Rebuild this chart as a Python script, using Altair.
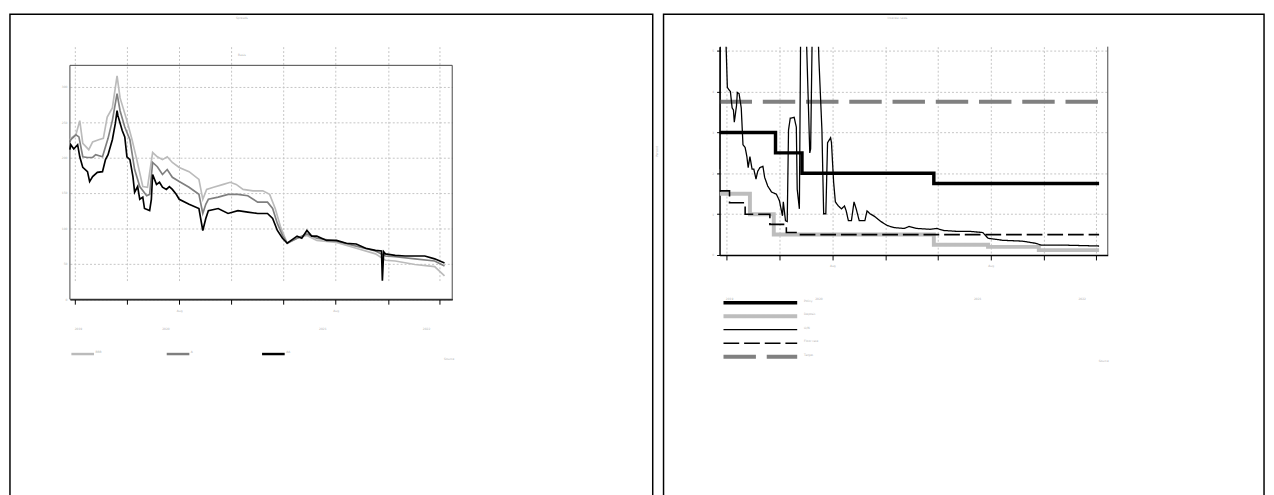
import altair as alt
import pandas as pd

FONT = "DejaVu Sans"
TINY = 3
TXT = "#b0b0b0"

# ---------------- Left panel data (basis points) ----------------
left_names = ["BBB", "A", "AA"]
left_colors = ["#bbbbbb", "#7f7f7f", "#000000"]

bbb_dates = ["2019-11-20", "2019-11-22", "2019-12-04", "2019-12-13", "2019-12-20", "2020-01-03", "2020-01-12",
             "2020-01-26", "2020-02-06", "2020-02-15", "2020-02-27", "2020-03-09", "2020-03-16", "2020-04-01",
             "2020-04-13", "2020-04-24", "2020-05-08", "2020-05-19", "2020-05-31", "2020-06-11", "2020-06-23",
             "2020-07-04", "2020-07-16", "2020-08-01", "2020-08-24", "2020-09-16", "2020-09-25", "2020-10-04",
             "2020-10-20", "2020-11-12", "2020-11-28", "2020-12-12", "2020-12-28", "2021-01-20", "2021-02-12",
             "2021-02-28", "2021-03-13", "2021-03-25", "2021-04-10", "2021-05-03", "2021-05-26", "2021-06-18",
             "2021-08-03", "2021-09-18", "2021-11-02", "2021-11-25", "2021-12-18", "2022-02-02", "2022-03-20",
             "2022-04-12"]
bbb_values = [224, 227, 232, 252, 220, 211, 222, 225, 227, 257, 270, 315, 284, 252, 225, 197, 159, 158, 207, 201,
              197, 201, 193, 186, 180, 169, 141, 155, 158, 162, 165, 162, 155, 153, 153, 148, 128, 103, 79, 86,
              90, 83, 80, 72, 64, 55, 54, 49, 46, 33]

a_dates = ["2019-11-20", "2019-11-22", "2019-12-04", "2019-12-11", "2019-12-20", "2019-12-31", "2020-01-12",
           "2020-01-19", "2020-02-04", "2020-02-11", "2020-02-17", "2020-02-27", "2020-03-09", "2020-03-16",
           "2020-03-27", "2020-04-08", "2020-04-19", "2020-05-01", "2020-05-17", "2020-05-24", "2020-05-31",
           "2020-06-11", "2020-06-23", "2020-07-04", "2020-07-16", "2020-08-01", "2020-08-24", "2020-09-16",
           "2020-09-25", "2020-10-02", "2020-10-08", "2020-10-31", "2020-11-23", "2020-12-16", "2021-01-08",
           "2021-01-31", "2021-02-23", "2021-03-07", "2021-03-18", "2021-03-30", "2021-04-10", "2021-05-03",
           "2021-05-26", "2021-06-18", "2021-08-03", "2021-09-18", "2021-11-02", "2021-11-25", "2021-12-18",
           "2022-02-02", "2022-03-20", "2022-04-12"]
a_values = [222, 225, 232, 229, 201, 200, 200, 204, 201, 215, 227, 252, 290, 266, 243, 225, 183, 159, 146, 148,
            193, 187, 176, 183, 172, 166, 158, 148, 121, 134, 141, 144, 148, 148, 146, 137, 137, 128, 107, 90,
            79, 86, 92, 86, 82, 75, 68, 61, 60, 57, 54, 47]

aa_dates = ["2019-11-20", "2019-11-22", "2019-11-29", "2019-12-08", "2019-12-13", "2019-12-20", "2019-12-31",
            "2020-01-05", "2020-01-12", "2020-01-23", "2020-02-04", "2020-02-11", "2020-02-17", "2020-02-27",
            "2020-03-05", "2020-03-09", "2020-03-11", "2020-03-21", "2020-03-27", "2020-04-01", "2020-04-08",
            "2020-04-15", "2020-04-19", "2020-04-26", "2020-05-01", "2020-05-08", "2020-05-12", "2020-05-24",
            "2020-05-28", "2020-05-31", "2020-06-09", "2020-06-16", "2020-06-23", "2020-07-02", "2020-07-09",
            "2020-07-16", "2020-07-25", "2020-08-01", "2020-08-24", "2020-09-16", "2020-09-25", "2020-10-02",
            "2020-10-08", "2020-10-31", "2020-11-23", "2020-12-16", "2021-01-08", "2021-01-31", "2021-02-23",
            "2021-03-07", "2021-03-18", "2021-03-30", "2021-04-10", "2021-05-03", "2021-05-14", "2021-05-26",
            "2021-06-06", "2021-06-18", "2021-07-11", "2021-08-03", "2021-08-26", "2021-09-18", "2021-10-10",
            "2021-11-02", "2021-11-16", "2021-11-18", "2021-11-21", "2021-11-25", "2021-12-18", "2022-01-10",
            "2022-02-02", "2022-02-25", "2022-03-20", "2022-04-12"]
aa_values = [211, 218, 212, 218, 201, 186, 180, 166, 173, 179, 180, 197, 204, 225, 248, 266, 259, 238, 229, 201,
             197, 173, 151, 159, 141, 144, 128, 125, 141, 176, 162, 165, 158, 155, 159, 155, 148, 141, 134, 128,
             97, 114, 125, 128, 121, 125, 123, 121, 121, 114, 97, 86, 79, 89, 86, 97, 89, 89, 83, 83,
             79, 78, 72, 69, 68, 26, 67, 64, 62, 61, 61, 61, 57, 51]

left_year_labels = ["2019", "2020", "2021", "2022"]
left_year_pos = ["2019-12-10", "2020-07-01", "2021-07-02", "2022-03-01"]
left_y_ticks = [0, 50, 100, 150, 200, 250, 300]

# ---------------- Right panel data (percent) ----------------
right_names = ["Policy", "Deposit", "O/N", "Floor rate", "Target"]
right_colors = ["#000000", "#bdbdbd", "#000000", "#000000", "#808080"]
right_widths = [3.5, 4, 1.3, 1.6, 4]
right_dashes = [[1, 0], [1, 0], [1, 0], [16, 5], [33, 11]]

policy_dates = ["2019-11-15", "2020-03-23", "2020-05-23", "2021-03-23", "2022-04-08"]
policy_values = [3.0, 2.5, 2.0, 1.75, 1.75]
deposit_dates = ["2019-11-15", "2020-01-24", "2020-03-19", "2021-03-23", "2021-07-26", "2021-11-20", "2022-04-08"]
deposit_values = [1.5, 1.0, 0.5, 0.25, 0.2, 0.12, 0.12]
floor_dates = ["2019-11-15", "2019-12-08", "2020-01-13", "2020-03-10", "2020-04-17", "2020-05-12", "2022-04-08"]
floor_values = [1.57, 1.28, 1.0, 0.75, 0.55, 0.5, 0.5]
target_dates = ["2019-11-15", "2022-04-08"]
target_values = [3.75, 3.75]

overnight_dates = ["2019-11-15", "2019-11-17", "2019-11-26", "2019-12-03", "2019-12-10", "2019-12-14", "2019-12-17",
                   "2019-12-19", "2019-12-24", "2019-12-26", "2019-12-30", "2020-01-04", "2020-01-08", "2020-01-13",
                   "2020-01-17", "2020-01-20", "2020-01-24", "2020-01-29", "2020-02-02", "2020-02-07", "2020-02-11",
                   "2020-02-16", "2020-02-23", "2020-02-27", "2020-03-05", "2020-03-14", "2020-03-25", "2020-04-01",
                   "2020-04-08", "2020-04-10", "2020-04-15", "2020-04-19", "2020-04-22", "2020-04-26", "2020-05-05",
                   "2020-05-10", "2020-05-12", "2020-05-17", "2020-05-21", "2020-05-28", "2020-05-30", "2020-06-10",
                   "2020-06-12", "2020-06-17", "2020-06-26", "2020-07-01", "2020-07-08", "2020-07-12", "2020-07-17",
                   "2020-07-21", "2020-07-28", "2020-07-30", "2020-08-04", "2020-08-08", "2020-08-15", "2020-08-22",
                   "2020-08-29", "2020-09-02", "2020-09-07", "2020-09-14", "2020-09-20", "2020-09-25", "2020-10-02",
                   "2020-10-15", "2020-10-20", "2020-10-27", "2020-11-07", "2020-11-21", "2020-12-06", "2020-12-22",
                   "2021-01-14", "2021-01-25", "2021-02-12", "2021-03-14", "2021-03-30", "2021-04-15", "2021-05-14",
                   "2021-06-13", "2021-07-14", "2021-07-26", "2021-08-29", "2021-10-13", "2021-11-11", "2021-11-27",
                   "2022-01-25", "2022-04-08"]
overnight_values = [2.1, 6.0, 6.5, 4.1, 4.0, 3.6, 3.55, 3.25, 3.65, 3.98, 3.95, 3.6, 2.7, 2.63,
                    2.41, 2.14, 2.41, 2.1, 2.1, 1.86, 2.05, 2.14, 2.17, 1.9, 1.69, 1.54, 1.49, 1.33,
                    0.96, 1.3, 0.84, 0.82, 3.06, 3.35, 3.37, 3.13, 1.61, 1.13, 7.0, 7.0, 6.5, 2.5,
                    2.6, 6.5, 6.5, 4.8, 3.06, 1.01, 1.01, 2.75, 2.87, 2.75, 1.78, 1.3, 1.2, 1.13,
                    1.2, 1.08, 0.84, 0.84, 1.3, 1.13, 0.84, 0.84, 1.08, 1.01, 0.94, 0.82, 0.72, 0.67,
                    0.65, 0.7, 0.65, 0.63, 0.65, 0.6, 0.58, 0.58, 0.55, 0.41, 0.36, 0.34, 0.29, 0.24,
                    0.24, 0.22]

right_year_labels = ["2019", "2020", "2021", "2022"]
right_year_pos = ["2019-12-08", "2020-07-01", "2021-07-02", "2022-02-28"]
right_y_ticks = [0, 1, 2, 3, 4, 5]


# ---------------- helpers ----------------
def dt(s):
    y, m, d = map(int, s.split("-"))
    return alt.DateTime(year=y, month=m, date=d)


tick_months = [(2019, 12)] + [(y, m) for y in (2020, 2021) for m in range(1, 13)] + [(2022, m) for m in range(1, 5)]
month_ticks = [alt.DateTime(year=y, month=m, date=1) for y, m in tick_months]


def series_frame(field, names, dates_list, values_list):
    parts = []
    for n, d, v in zip(names, dates_list, values_list):
        parts.append(pd.DataFrame({field: n, "date": d, "value": v}))
    return pd.concat(parts, ignore_index=True)


def x_axis():
    return alt.Axis(
        values=month_ticks,
        labelExpr="indexof([1,4,7,10], month(datum.value)) >= 0 ? timeFormat(datum.value, '%b') : ''",
        labelFontSize=TINY, labelColor=TXT, labelPadding=5, labelFlush=False, labelOverlap=False,
        tickSize={"condition": {"test": "month(datum.value) == 0", "value": 10}, "value": 5},
        tickColor="#000", tickWidth=1, domainColor="#000", domainWidth=1.5,
        grid=True, gridDash=[2, 2], gridColor="#c4c4c4", gridWidth=1, title=None)


one = pd.DataFrame({"k": [0]})


def frame(x1, x2, y1, y2, color="#000", width=1.5):
    return alt.Chart(one).mark_rect(filled=False, stroke=color, strokeWidth=width).encode(
        x=alt.value(x1), x2=alt.value(x2), y=alt.value(y1), y2=alt.value(y2))


def note(text, x, y, align="center", angle=0):
    return alt.Chart(pd.DataFrame({"t": [text]})).mark_text(
        fontSize=TINY, color=TXT, align=align, angle=angle).encode(
        text="t:N", x=alt.value(x), y=alt.value(y))


# common origin: top of the right plot. Left plot starts TOPGAP px lower.
TOPGAP = 19

# ---------------- left panel ----------------
LW, LH = 389, 238
LTOT = LH + TOPGAP
df_left = series_frame("lseries", left_names, [bbb_dates, a_dates, aa_dates], [bbb_values, a_values, aa_values])
df_left_years = pd.DataFrame({"date": left_year_pos, "label": left_year_labels})

left_lines = alt.Chart(df_left).mark_line(strokeWidth=1.7).encode(
    x=alt.X("date:T", title=None, scale=alt.Scale(domain=[dt("2019-11-20"), dt("2022-04-30")]), axis=x_axis()),
    y=alt.Y("value:Q", title=None, scale=alt.Scale(domain=[0, 330], range=[LTOT, TOPGAP]),
            axis=alt.Axis(values=left_y_ticks, labelFontSize=TINY, labelColor=TXT, labelPadding=3,
                          ticks=False, domain=False, grid=True, gridDash=[2, 2], gridColor="#c4c4c4")),
    color=alt.Color("lseries:N", scale=alt.Scale(domain=left_names, range=left_colors),
                    legend=alt.Legend(orient="none", legendX=-1, legendY=LTOT + 53, direction="horizontal",
                                      title=None, symbolType="M0,0H20", symbolSize=5.3, symbolStrokeWidth=2.5,
                                      labelFontSize=TINY, labelColor=TXT, labelOffset=22, labelLimit=30,
                                      labelBaseline="bottom", columnPadding=60, gridAlign="all")),
)
left_years = alt.Chart(df_left_years).mark_text(fontSize=TINY, color=TXT).encode(
    x=alt.X("date:T"), y=alt.value(LTOT + 30), text="label:N")

left = alt.layer(
    frame(-61, 593, -33, 459),
    frame(0, LW, TOPGAP, LTOT, color="#444", width=1),
    left_lines,
    left_years,
    note("Spreads", 175, -29),
    note("Basis", 175, 8),
    note("Source", 391, LTOT + 61, align="right"),
).properties(width=LW, height=LTOT, view=alt.ViewBackground(stroke="transparent"))

# ---------------- right panel ----------------
RW, RH = 395, 212
df_steps = series_frame("rseries", ["Target", "Deposit", "Policy", "Floor rate"],
                        [target_dates, deposit_dates, policy_dates, floor_dates],
                        [target_values, deposit_values, policy_values, floor_values])
df_over = series_frame("rseries", ["O/N"], [overnight_dates], [overnight_values])
df_right_years = pd.DataFrame({"date": right_year_pos, "label": right_year_labels})

r_legend = alt.Legend(orient="none", legendX=0, legendY=254.5, direction="vertical", title=None,
                      symbolType="M0,0H37.5", symbolSize=16, labelFontSize=TINY, labelColor=TXT,
                      labelOffset=78, labelLimit=40, labelBaseline="bottom",
                      clipHeight=12, rowPadding=1.75)

r_x = alt.X("date:T", title=None, scale=alt.Scale(domain=[dt("2019-11-15"), dt("2022-04-28")]), axis=x_axis())
r_y = alt.Y("value:Q", title="Percent", scale=alt.Scale(domain=[0, 5.1]),
            axis=alt.Axis(values=right_y_ticks, labelFontSize=TINY, labelColor=TXT, labelPadding=3,
                          tickSize=3, tickColor="#000", domainColor="#000", domainWidth=1.5,
                          grid=True, gridDash=[2, 2], gridColor="#c4c4c4",
                          titleFontSize=TINY, titleColor=TXT, titlePadding=54, titleFontWeight="normal"))
r_color = alt.Color("rseries:N", scale=alt.Scale(domain=right_names, range=right_colors), legend=r_legend)
r_dash = alt.StrokeDash("rseries:N", scale=alt.Scale(domain=right_names, range=right_dashes), legend=r_legend)
r_width = alt.StrokeWidth("rseries:N", scale=alt.Scale(type="ordinal", domain=right_names, range=right_widths),
                          legend=r_legend)

right_steps = alt.Chart(df_steps).mark_line(interpolate="step-after", clip=True).encode(
    x=r_x, y=r_y, color=r_color, strokeDash=r_dash, strokeWidth=r_width)
right_over = alt.Chart(df_over).mark_line(clip=True).encode(
    x=r_x, y=r_y, color=r_color, strokeDash=r_dash, strokeWidth=r_width)
right_years = alt.Chart(df_right_years).mark_text(fontSize=TINY, color=TXT).encode(
    x=alt.X("date:T"), y=alt.value(RH + 45), text="label:N")
right_edge = alt.Chart(one).mark_rule(color="#444", strokeWidth=1).encode(
    x=alt.value(RW), y=alt.value(0), y2=alt.value(RH))

right = alt.layer(
    frame(-57, 554, -33, 459),
    right_steps,
    right_over,
    right_years,
    right_edge,
    note("Interest rates", 181, -29),
    note("Source", 396, 320, align="right"),
).properties(width=RW, height=RH, view=alt.ViewBackground(stroke="transparent"))

chart = alt.hconcat(left, right, spacing=0).resolve_scale(
    color="independent", strokeDash="independent", strokeWidth="independent"
).resolve_legend(
    color="independent", strokeDash="independent", strokeWidth="independent"
).properties(
    padding={"left": 0, "top": 0, "right": 0, "bottom": 0}
).configure(font=FONT)

chart.save("out.html", embed_options={"renderer": "svg", "actions": False})
